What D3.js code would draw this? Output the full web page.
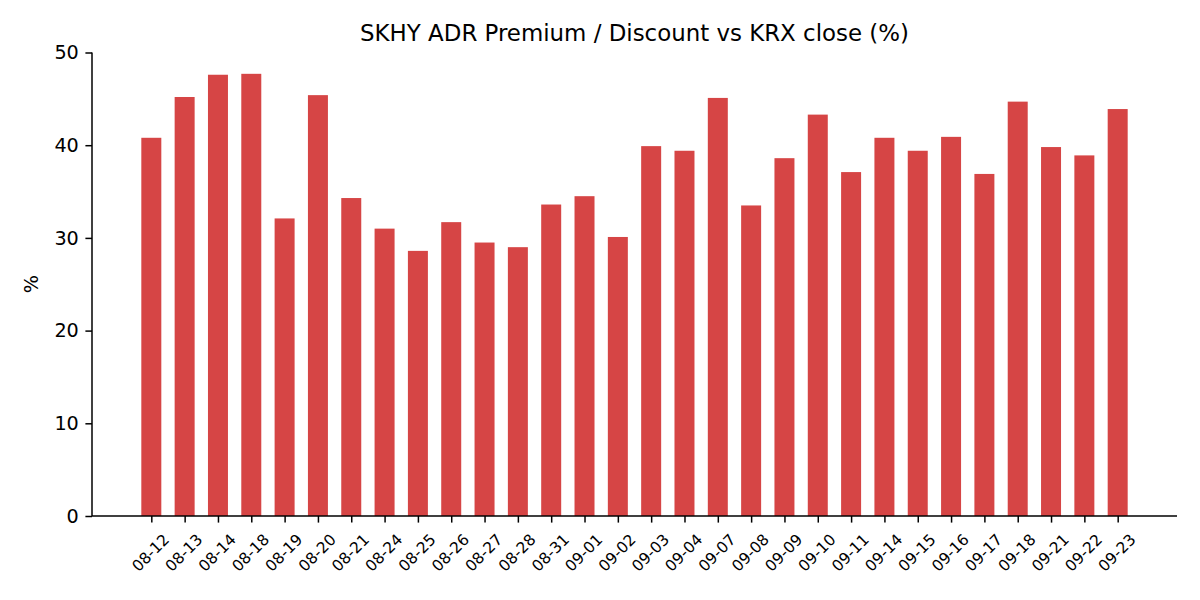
<!DOCTYPE html>
<html><head><meta charset="utf-8">
<script src="https://cdn.jsdelivr.net/npm/d3@7/dist/d3.min.js"></script>
<style>body{margin:0;background:#fff}svg{display:block;font-family:"DejaVu Sans",sans-serif}</style>
</head><body><svg id="c" width="1200" height="600"></svg>
<script>
const categories = ["08-12","08-13","08-14","08-18","08-19","08-20","08-21","08-24","08-25","08-26","08-27","08-28","08-31","09-01","09-02","09-03","09-04","09-07","09-08","09-09","09-10","09-11","09-14","09-15","09-16","09-17","09-18","09-21","09-22","09-23"];
const values = [40.8,45.2,47.6,47.7,32.1,45.4,34.3,31.0,28.6,31.7,29.5,29.0,33.6,34.5,30.1,39.9,39.4,45.1,33.5,38.6,43.3,37.1,40.8,39.4,40.9,36.9,44.7,39.8,38.9,43.9];
const yTicks = [0,10,20,30,40,50];
const title = "SKHY ADR Premium / Discount vs KRX close (%)";
const yLabel = "%";

const L = 92, R = 1177, T = 52.5, B = 516;
const svg = d3.select("#c");
const n = categories.length;
const bw = 0.6;
const span = (n - 1) + bw;
const pad = span * 0.05;
const x = d3.scaleLinear().domain([-bw/2 - pad, n - 1 + bw/2 + pad]).range([L, R]);
const y = d3.scaleLinear().domain([0, 50]).range([B, T]);

svg.append("g").selectAll("rect").data(values).join("rect")
  .attr("x", (d,i) => x(i - bw/2)).attr("width", x(bw) - x(0))
  .attr("y", d => y(d)).attr("height", d => y(0) - y(d))
  .attr("fill", "#d64545");

const ya = svg.append("g").attr("transform", `translate(${L},0)`)
  .call(d3.axisLeft(y).tickValues(yTicks).tickSize(6.6).tickPadding(6.6).tickFormat(d3.format("d")));
ya.select(".domain").attr("d", `M0,${B}V${T}`).attr("stroke-width", 1.5);
ya.selectAll(".tick line").attr("stroke-width", 1.5);
ya.selectAll("text").attr("font-size", 19.2).attr("fill", "#000").attr("font-family", "DejaVu Sans");

const xa = svg.append("g").attr("transform", `translate(0,${B})`)
  .call(d3.axisBottom(x).tickValues(d3.range(n)).tickSize(6.6).tickFormat(i => categories[i]));
xa.select(".domain").attr("d", `M${L},0H${R}`).attr("stroke-width", 1.5);
xa.selectAll(".tick line").attr("stroke-width", 1.5);
xa.selectAll(".tick text")
  .attr("font-size", 15.5).attr("fill", "#000").attr("font-family", "DejaVu Sans")
  .attr("y", 0).attr("dy", "0.32em").attr("text-anchor", "middle")
  .attr("transform", "translate(-1,37) rotate(-45)");

svg.append("text").attr("x", (L + R) / 2).attr("y", 41).attr("text-anchor", "middle")
  .attr("font-size", 22.9).attr("fill", "#000").text(title);

svg.append("text").attr("transform", `translate(38,${(T + B) / 2}) rotate(-90)`)
  .attr("text-anchor", "middle").attr("font-size", 19.2).attr("fill", "#000").text(yLabel);
</script></body></html>
